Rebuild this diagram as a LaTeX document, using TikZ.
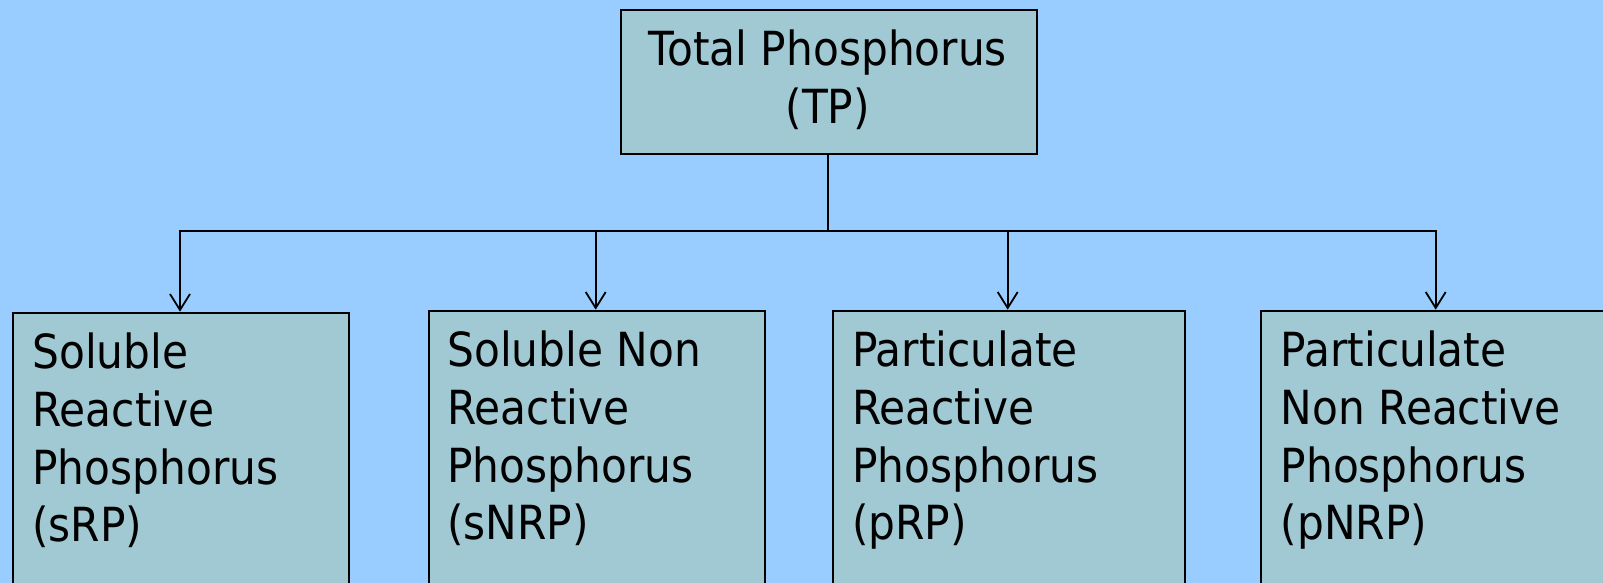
\documentclass[tikz,border=0pt]{standalone}
\usepackage{fontspec}
\setmainfont[FakeStretch=0.9]{DejaVu Sans}
\usetikzlibrary{arrows.meta}
\definecolor{bgblue}{RGB}{153,204,255}
\definecolor{boxfill}{RGB}{160,201,211}
\begin{document}
\begin{tikzpicture}[x=1pt,y=1pt,
  box/.style={draw=black, line width=2pt, fill=boxfill, rectangle, inner sep=0pt},
  lbl/.style={inner sep=0pt, anchor=north west, align=left, font=\fontsize{47}{57.7}\selectfont},
  conn/.style={line width=2pt, draw=black},
  arr/.style={conn, -{Straight Barb[length=16pt,width=20pt,line width=1.8pt]}}
]
\useasboundingbox (0,0) rectangle (1603,583);
\fill[bgblue] (0,0) rectangle (1603,583);

% top box
\node[box, minimum width=416.5pt, minimum height=144pt, anchor=north west] (tp) at (619.5,574) {};
\node[inner sep=0pt, anchor=north, align=center, font=\fontsize{47}{58.3}\selectfont] (tpt) at (827.8,558) {\rule{0pt}{40pt}Total Phosphorus\\(TP)};

% bottom boxes
\node[box, minimum width=336.6pt, minimum height=290pt, anchor=north west] (b1) at (11.7,271.3) {};
\node[box, minimum width=336pt, minimum height=290pt, anchor=north west] (b2) at (427.7,273.3) {};
\node[box, minimum width=352pt, minimum height=290pt, anchor=north west] (b3) at (832,273.3) {};
\node[box, minimum width=360pt, minimum height=290pt, anchor=north west] (b4) at (1260,273.3) {};

\node[lbl] (t1) at ([xshift=20.5pt,yshift=-17pt]b1.north west) {\rule{0pt}{40pt}Soluble\\Reactive\\Phosphorus\\(sRP)};
\node[lbl] (t2) at ([xshift=19.5pt,yshift=-17pt]b2.north west) {\rule{0pt}{40pt}Soluble Non\\Reactive\\Phosphorus\\(sNRP)};
\node[lbl] (t3) at ([xshift=20pt,yshift=-17pt]b3.north west) {\rule{0pt}{40pt}Particulate\\Reactive\\Phosphorus\\(pRP)};
\node[lbl] (t4) at ([xshift=20.5pt,yshift=-17pt]b4.north west) {\rule{0pt}{40pt}Particulate\\Non Reactive\\Phosphorus\\(pNRP)};

% connectors
\coordinate (j) at (828,351.5);
\draw[conn] (tp.south -| j) -- (j);
\draw[arr] (j) -| ([xshift=180pt-11.7pt]b1.north west);
\draw[arr] (j) -| ([xshift=595.7pt-427.7pt]b2.north west);
\draw[arr] (j) -| ([xshift=1007.7pt-832pt]b3.north west);
\draw[arr] (j) -| ([xshift=1435.7pt-1260pt]b4.north west);
\end{tikzpicture}
\end{document}
